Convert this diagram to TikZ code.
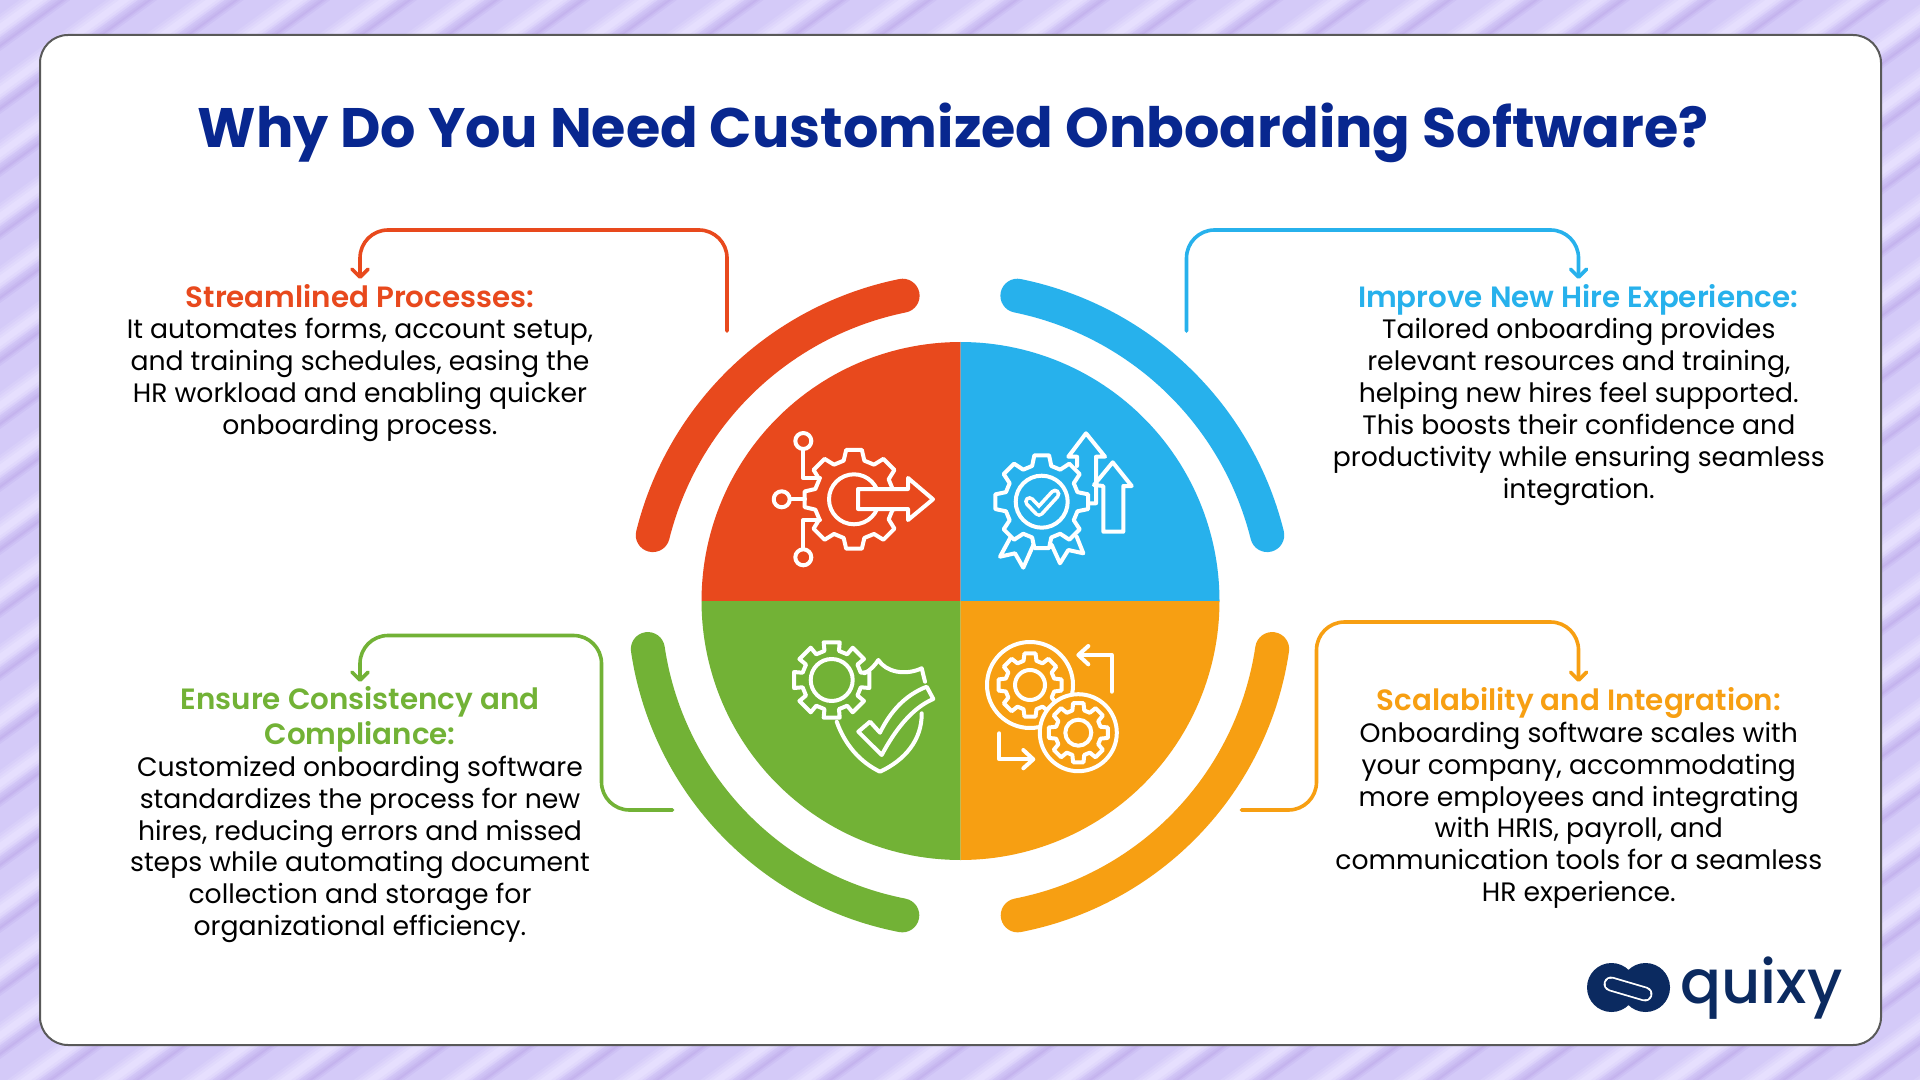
\documentclass[tikz,border=0pt]{standalone}
\usepackage{fontspec}
\setmainfont{Poppins}
\newfontfamily\psemi{Poppins SemiBold}
\newfontfamily\pmed{Poppins Medium}
\usetikzlibrary{arrows.meta}
\definecolor{cRed}{HTML}{E8491D}
\definecolor{cBlue}{HTML}{27B1EC}
\definecolor{cGreen}{HTML}{72B236}
\definecolor{cOrange}{HTML}{F79F12}
\definecolor{cTitle}{HTML}{08278F}
\definecolor{cLogo}{HTML}{0B2A60}
\definecolor{bgD}{HTML}{C4B3EE}
\definecolor{bgM}{HTML}{D4CAF8}
\definecolor{bgL}{HTML}{E6DFFE}
\tikzset{
  iconline/.style={draw=white,line width=2pt,line join=round,line cap=round},
  conn/.style={line width=1.8pt,rounded corners=14pt,line cap=round,-{Straight Barb[length=4pt,width=8pt,round]}},
  ring/.style={line width=17pt,line cap=round},
  head/.style={font=\fontsize{14.67}{17.15}\selectfont\psemi,align=center,inner sep=0pt},
  bodytext/.style={font=\fontsize{13.33}{15.95}\selectfont,align=center,inner sep=0pt,anchor=north,text=black},
}
% cx cy R r n rot aoOuter aiInner
\newcommand\gearpath[8]{%
  ({#1+#4*cos(#6-#8)},{#2+#4*sin(#6-#8)})
  \foreach \k [evaluate=\k as \a using #6+\k*360/#5] in {0,...,\numexpr#5-1\relax} {
    -- ({#1+#4*cos(\a-#8)},{#2+#4*sin(\a-#8)})
    -- ({#1+#3*cos(\a-#7)},{#2+#3*sin(\a-#7)})
    -- ({#1+#3*cos(\a+#7)},{#2+#3*sin(\a+#7)})
    -- ({#1+#4*cos(\a+#8)},{#2+#4*sin(\a+#8)})
  } -- cycle}
\begin{document}
\begin{tikzpicture}[x=0.5pt,y=-0.5pt]
\useasboundingbox (0,0) rectangle (1920,1080);
\clip (0,0) rectangle (1920,1080);
% background stripes
\fill[bgM] (0,0) rectangle (1920,1080);
\foreach \n in {-1,...,39}{
  \foreach \p/\c in {0/bgD,.03/bgD!70!bgM,.06/bgD!35!bgM,.10/bgM,.46/bgM,.51/bgM!75!bgL,.56/bgM!50!bgL,.61/bgM!25!bgL,.66/bgL,.74/bgL,.79/bgL!70!bgM,.84/bgL!30!bgM,.88/bgM!80!bgD,.92/bgM!55!bgD,.96/bgM!25!bgD}{
    \fill[\c] (0,{45+63*(\n+\p)}) -- (1920,{45+63*(\n+\p)-1396}) -- (1920,1080) -- (0,1080) -- cycle;
  }
}
% card
\draw[fill=white,draw=black!65,line width=1pt,rounded corners=14pt] (40,35) rectangle (1881,1045);
% title
\node[font=\fontsize{27.8}{34}\selectfont\bfseries,text=cTitle,inner sep=0pt] (title) at (953,133) {Why Do You Need Customized Onboarding Software?};
% quadrants
\coordinate (ctr) at (960.5,601);
\fill[cRed] (ctr) -- plot[domain=90:180,samples=60] ({960.5+259*cos(\x)},{601-259*sin(\x)}) -- cycle;
\fill[cBlue] (ctr) -- plot[domain=0:90,samples=60] ({960.5+259*cos(\x)},{601-259*sin(\x)}) -- cycle;
\fill[cGreen] (ctr) -- plot[domain=180:270,samples=60] ({960.5+259*cos(\x)},{601-259*sin(\x)}) -- cycle;
\fill[cOrange] (ctr) -- plot[domain=270:360,samples=60] ({960.5+259*cos(\x)},{601-259*sin(\x)}) -- cycle;
% rings
\draw[ring,cRed] plot[domain=166.05:101.5,samples=60] ({967.2+324*cos(\x)},{613.2-324*sin(\x)});
\draw[ring,cBlue] plot[domain=78.5:13.95,samples=60] ({952.8+324*cos(\x)},{613.2-324*sin(\x)});
\draw[ring,cGreen] plot[domain=188.4:259,samples=60] ({963.1+318.7*cos(\x)},{602.5-318.7*sin(\x)});
\draw[ring,cOrange] plot[domain=351.6:281,samples=60] ({956.9+318.7*cos(\x)},{602.5-318.7*sin(\x)});
% texts
\node[head,text=cRed,anchor=base] (h1) at (360,307) {Streamlined Processes:};
\node[bodytext] (b1) at (360,318) {It automates forms, account setup,\\and training schedules, easing the\\HR workload and enabling quicker\\onboarding process.};
\node[head,text=cBlue,anchor=base] (h2) at (1578,307) {Improve New Hire Experience:};
\node[bodytext] (b2) at (1578.8,318) {Tailored onboarding provides\\relevant resources and training,\\helping new hires feel supported.\\This boosts their confidence and\\productivity while ensuring seamless\\integration.};
\node[head,text=cGreen] (h3) at (360,719.5) {Ensure Consistency and\\Compliance:};
\node[bodytext] (b3) at (360,755.5) {Customized onboarding software\\standardizes the process for new\\hires, reducing errors and missed\\steps while automating document\\collection and storage for\\organizational efficiency.};
\node[head,text=cOrange,anchor=base] (h4) at (1579,710) {Scalability and Integration:};
\node[bodytext] (b4) at (1578.8,721.5) {Onboarding software scales with\\your company, accommodating\\more employees and integrating\\with HRIS, payroll, and\\communication tools for a seamless\\HR experience.};
% connectors
\coordinate (r0) at (727,331); \coordinate (r1) at (727,230); \coordinate (r2) at (360,230); \coordinate (r3) at (360,279);
\draw[conn,cRed] (r0) -- (r1) -- (r2) -- (r3);
\coordinate (u0) at (1186.5,331); \coordinate (u1) at (1186.5,230); \coordinate (u2) at (1578.5,230); \coordinate (u3) at (1578.5,279);
\draw[conn,cBlue] (u0) -- (u1) -- (u2) -- (u3);
\coordinate (g0) at (672.5,810); \coordinate (g1) at (601.5,810); \coordinate (g2) at (601.5,635.5); \coordinate (g3) at (360,635.5); \coordinate (g4) at (360,682);
\draw[conn,cGreen] (g0) -- (g1) -- (g2) -- (g3) -- (g4);
\coordinate (o0) at (1241.5,810); \coordinate (o1) at (1316.5,810); \coordinate (o2) at (1316.5,622); \coordinate (o3) at (1578.5,622); \coordinate (o4) at (1578.5,682);
\draw[conn,cOrange] (o0) -- (o1) -- (o2) -- (o3) -- (o4);
% icon 1
\draw[iconline] \gearpath{854}{499.3}{50}{40}{8}{0}{9}{15};
\draw[iconline] (854,499.3) circle[radius=25];
\draw[iconline,fill=cRed] (858,489) -- (908,489) -- (908,478) -- (933,499.3) -- (908,520) -- (908,509) -- (858,509) -- cycle;
\draw[iconline] (803.3,441) circle[radius=8];
\draw[iconline] (781.7,499.3) circle[radius=8];
\draw[iconline] (803.3,557.3) circle[radius=8];
\draw[iconline] (803.3,450) -- (803.3,478.3) -- (820,478.3);
\draw[iconline] (791.7,499.3) -- (805,499.3);
\draw[iconline] (803.3,548.3) -- (803.3,520) -- (820,520);
% icon 2
\draw[iconline] \gearpath{1041.7}{501.7}{47}{37}{8}{0}{9}{15};
\draw[iconline] (1041.7,501.7) circle[radius=26];
\draw[white,line width=5.5pt,line join=round,line cap=round] (1029.5,501.5) -- (1039,511.5) -- (1055,494);
\draw[cBlue,line width=1.8pt,line join=round,line cap=round] (1029.5,501.5) -- (1039,511.5) -- (1055,494);
\draw[iconline] (1010,538.3) -- (1000,556.7) -- (1015,553.3) -- (1023.3,567.7) -- (1033.3,545);
\draw[iconline] (1051.7,545) -- (1060,563.3) -- (1068.3,550) -- (1083.3,553.3) -- (1076.7,536.7);
\draw[iconline] (1077,466) -- (1077,456.7) -- (1068.3,456.7) -- (1086,433.3) -- (1105,456.7) -- (1096,456.7) -- (1096,503.3) -- (1090,503.3);
\draw[iconline] (1094,485) -- (1112.7,462.3) -- (1131.7,486) -- (1123.3,486) -- (1123.3,531.7) -- (1103.3,531.7) -- (1103.3,486) -- cycle;
% icon 3
\draw[iconline] \gearpath{831.7}{680}{38.5}{30}{8}{0}{12}{14};
\draw[iconline] (831.7,680) circle[radius=21];
\draw[iconline] (864.3,673.3) .. controls (871,670) and (875,665) .. (878.3,660) .. controls (886,672) and (905,676) .. (921.7,668.3) -- (925,681.7);
\draw[iconline] (836.7,721.7) .. controls (845,745) and (860,762) .. (880,771.7) .. controls (905,760) and (922,740) .. (921.7,713.3);
\draw[iconline] (858.3,731.7) -- (870,721.7) -- (880,732.7) .. controls (890,712) and (905,695) .. (926.7,686.7) -- (933.3,699) .. controls (912,708) and (895,730) .. (881.7,755) -- cycle;
% icon 4
\draw[iconline] (1030,685) circle[radius=43];
\draw[iconline] \gearpath{1030}{685}{32}{25}{8}{0}{10}{15};
\draw[iconline] (1030,685) circle[radius=15];
\draw[iconline,fill=cOrange] (1078.3,732.7) circle[radius=38.5];
\draw[iconline] \gearpath{1078.3}{732.7}{30}{23}{8}{0}{10}{15};
\draw[iconline] (1078.3,732.7) circle[radius=13];
\draw[iconline] (1111.7,691.7) -- (1111.7,655) -- (1080,655);
\draw[iconline] (1088.3,646) -- (1078.3,655) -- (1088.3,664.3);
\draw[iconline] (999.3,733.3) -- (999.3,759.3) -- (1031.7,759.3);
\draw[iconline] (1023.3,750) -- (1033.3,759.3) -- (1023.3,768.3);
% logo
\fill[cLogo] (1611.5,987.5) circle[radius=24.5] (1645.5,987.5) circle[radius=24.5];
\draw[white,line width=7.4pt,line cap=round] (1611,984) -- (1645,994);
\draw[cLogo,line width=5.6pt,line cap=round] (1611,984) -- (1645,994);
\node[font=\fontsize{30.3}{30}\selectfont\pmed,text=cLogo,inner sep=0pt,anchor=base west] (logo) at (1680,1003) {quixy};
\end{tikzpicture}
\end{document}
